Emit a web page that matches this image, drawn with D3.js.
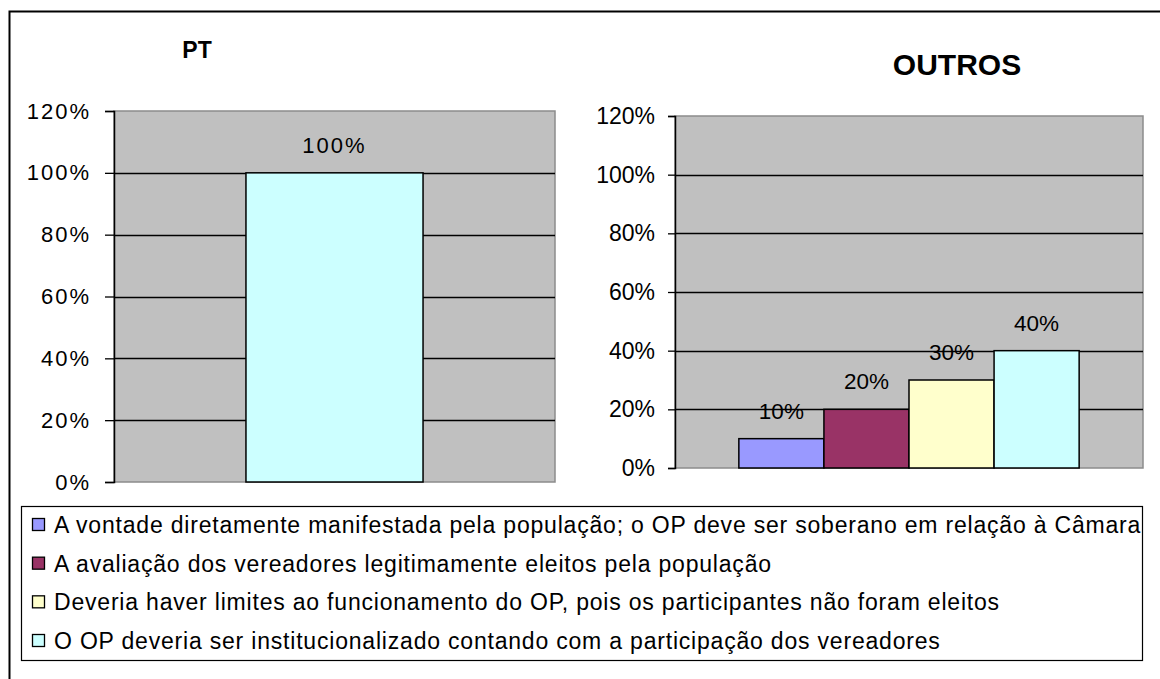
<!DOCTYPE html>
<html>
<head>
<meta charset="utf-8">
<script src="https://cdn.jsdelivr.net/npm/d3@7"></script>
<style>
body { margin: 0; background: #fff; }
svg { display: block; font-family: "Liberation Sans", Arial, sans-serif; }
</style>
</head>
<body>
<div id="chart"></div>
<script>
// data
var seriesNames = [
  "A vontade diretamente manifestada pela população; o OP deve ser soberano em relação à Câmara",
  "A avaliação dos vereadores legitimamente eleitos pela população",
  "Deveria haver limites ao funcionamento do OP, pois os participantes não foram eleitos",
  "O OP deveria ser institucionalizado contando com a participação dos vereadores"
];
var seriesColors = ["#9999FF", "#993366", "#FFFFCC", "#CCFFFF"];
var ptSeries = [3];
var ptValues = [100];
var outrosSeries = [0, 1, 2, 3];
var outrosValues = [10, 20, 30, 40];
var yTicks = [0, 20, 40, 60, 80, 100, 120];

var W = 1160, H = 679;
var svg = d3.select("#chart").append("svg")
  .attr("width", W).attr("height", H);

// outer frame
svg.append("rect")
  .attr("x", 9.5).attr("y", 11.5).attr("width", 1200).attr("height", 720)
  .attr("fill", "#fff").attr("stroke", "#000").attr("stroke-width", 2);

function panel(opts) {
  var g = svg.append("g");
  var y = d3.scaleLinear().domain([0, 120]).range([opts.bottom, opts.top]);
  var x = d3.scaleBand().domain(["c"]).range([opts.left, opts.right])
    .padding(opts.pad);
  var xs = d3.scaleBand().domain(opts.series).range([0, x.bandwidth()]);

  // plot area
  g.append("rect")
    .attr("x", opts.left).attr("y", opts.top)
    .attr("width", opts.right - opts.left).attr("height", opts.bottom - opts.top)
    .attr("fill", "#C0C0C0").attr("stroke", "#8c8c8c").attr("stroke-width", 1.5);

  // gridlines
  g.selectAll(".grid").data(yTicks.filter(function(d) { return d > 0 && d < 120; }))
    .enter().append("line")
    .attr("x1", opts.left).attr("x2", opts.right)
    .attr("y1", function(d) { return Math.round(y(d)) + 0.5; })
    .attr("y2", function(d) { return Math.round(y(d)) + 0.5; })
    .attr("stroke", "#000").attr("stroke-width", 1.3);

  // bars
  var data = opts.series.map(function(s, i) { return {s: s, v: opts.values[i]}; });
  g.selectAll(".bar").data(data).enter().append("rect")
    .attr("x", function(d) { return x("c") + xs(d.s); })
    .attr("y", function(d) { return y(d.v); })
    .attr("width", xs.bandwidth())
    .attr("height", function(d) { return y(0) - y(d.v); })
    .attr("fill", function(d) { return seriesColors[d.s]; })
    .attr("stroke", "#000").attr("stroke-width", 1.5);

  // value labels
  g.selectAll(".lbl").data(data).enter().append("text")
    .attr("x", function(d) { return x("c") + xs(d.s) + xs.bandwidth() / 2; })
    .attr("y", function(d) { return y(d.v) - 20; })
    .attr("text-anchor", "middle")
    .attr("font-size", opts.vfs).attr("letter-spacing", opts.ls)
    .attr("fill", "#000")
    .text(function(d) { return d.v + "%"; });

  // y axis
  var ax = g.append("g")
    .attr("transform", "translate(" + opts.left + ",0)")
    .call(d3.axisLeft(y).tickValues(yTicks).tickSize(opts.tick)
      .tickPadding(opts.tickPad).tickFormat(function(d) { return d + "%"; }));
  ax.select(".domain").attr("stroke", "#000").attr("stroke-width", 1.5);
  ax.selectAll(".tick line").attr("stroke", "#000").attr("stroke-width", 1.3);
  ax.selectAll("text").attr("font-size", opts.fs).attr("letter-spacing", opts.ls)
    .attr("font-family", "Liberation Sans, Arial, sans-serif").attr("fill", "#000");

  // title
  g.append("text")
    .attr("x", opts.tx).attr("y", opts.ty)
    .attr("text-anchor", "middle").attr("font-weight", "bold")
    .attr("font-size", opts.tfs).text(opts.title);
}

panel({left: 114, right: 555, top: 111, bottom: 482, pad: 0.427,
  series: ptSeries, values: ptValues, tick: 9, tickPad: 14,
  fs: 22, vfs: 22, ls: 2, title: "PT", tx: 197, ty: 58, tfs: 23});

panel({left: 675, right: 1143, top: 116, bottom: 468, pad: 0.158,
  series: outrosSeries, values: outrosValues, tick: 7, tickPad: 13,
  fs: 23, vfs: 22.5, ls: 0, title: "OUTROS", tx: 957, ty: 75, tfs: 30});

// legend
var lg = svg.append("g");
lg.append("rect")
  .attr("x", 21.5).attr("y", 506.5).attr("width", 1121).attr("height", 154)
  .attr("fill", "#fff").attr("stroke", "#000").attr("stroke-width", 1.2);
var rowY = d3.scalePoint().domain(d3.range(seriesNames.length)).range([525, 641]);
var items = lg.selectAll(".item").data(seriesNames).enter().append("g")
  .attr("transform", function(d, i) { return "translate(0," + rowY(i) + ")"; });
items.append("rect")
  .attr("x", 32.5).attr("y", -6.5).attr("width", 12).attr("height", 12)
  .attr("fill", function(d, i) { return seriesColors[i]; })
  .attr("stroke", "#000").attr("stroke-width", 1.3);
items.append("text")
  .attr("x", 54).attr("y", 8)
  .attr("font-size", 23).attr("letter-spacing", 0.8).attr("fill", "#000")
  .text(function(d) { return d; });
</script>
</body>
</html>
